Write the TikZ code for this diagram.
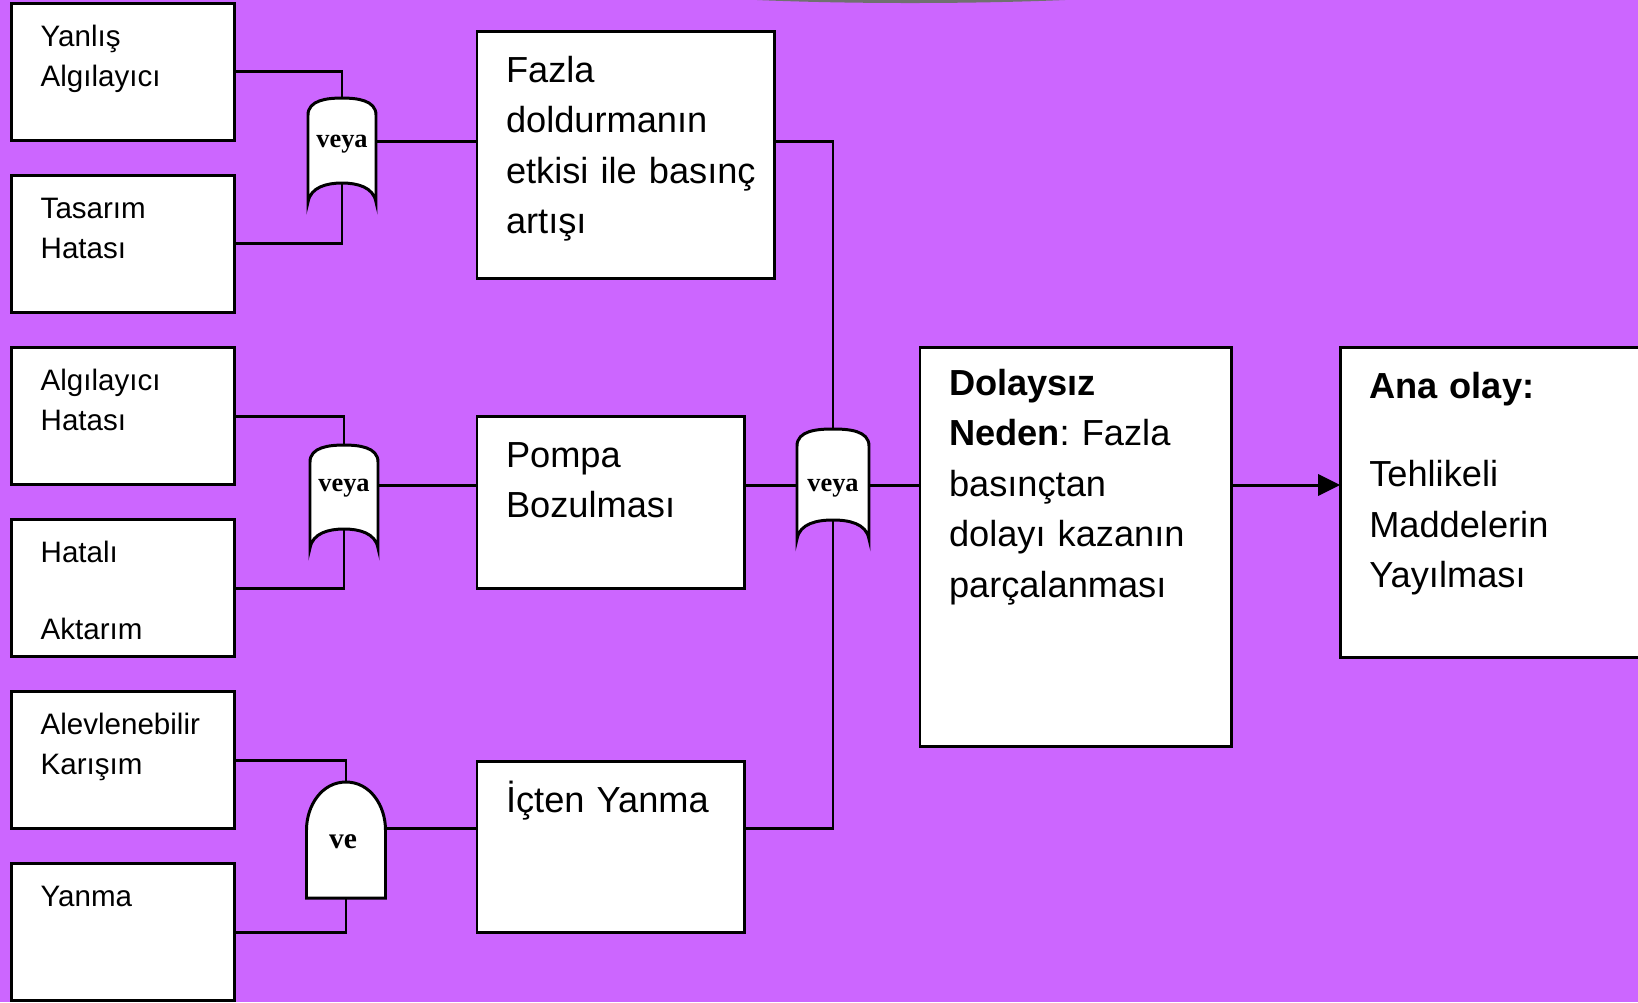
\documentclass[tikz,border=0pt]{standalone}
\usepackage{fontspec}
\setmainfont{Liberation Sans}
\newfontfamily\gatefont{Liberation Serif}
\usepackage{tikz}
\usetikzlibrary{positioning,arrows.meta}
\definecolor{c_back}{RGB}{204,102,255}
\definecolor{c_edge}{RGB}{112,112,112}
\hyphenpenalty=10000
\frenchspacing
\tikzset{leafbox/.style={rectangle, draw=black, fill=white, line width=0.85pt, outer sep=0pt, align=left, inner xsep=0.29cm, inner ysep=0pt, text width=1.65cm, text height=0.43cm, text depth=0.94cm, font=\fontsize{8.4}{11.3}\selectfont},
eventbox/.style={rectangle, draw=black, fill=white, line width=0.85pt, outer sep=0pt, align=left, anchor=north west, inner xsep=0.29cm, inner ysep=0pt, text height=0.51cm, font=\fontsize{10.3}{14.4}\selectfont},
gateline/.style={draw=black, fill=white, line width=0.85pt},
gatetext/.style={inner sep=0pt, font=\gatefont\bfseries\fontsize{7.5}{9}\selectfont},
wire/.style={line width=0.85pt},
arrow/.style={line width=0.85pt,-{Triangle[length=0.22cm,width=0.21cm]}}}
% gates: name, centre x, top y, width, height, output y, label
\newcommand{\orgate}[7]{%
  \draw[gateline] (#2-#4/2,#3+17) to[out=90,in=180] (#2,#3) to[out=0,in=90] (#2+#4/2,#3+17)
    -- (#2+#4/2,#3+#5) to[out=100,in=0] (#2,#3+#5-19) to[out=180,in=80] (#2-#4/2,#3+#5) -- cycle;
  \coordinate (#1-n) at (#2,#3);
  \coordinate (#1-s) at (#2,#3+#5-19);
  \coordinate (#1-w) at (#2-#4/2,#6);
  \coordinate (#1-e) at (#2+#4/2,#6);
  \node (#1) [gatetext] at (#2,#6+3) {#7};}
\newcommand{\andgate}[7]{%
  \draw[gateline] (#2-#4/2,#3+#5) -- (#2-#4/2,#3+48) to[out=90,in=180] (#2,#3) to[out=0,in=90] (#2+#4/2,#3+48)
    -- (#2+#4/2,#3+#5) -- cycle;
  \coordinate (#1-n) at (#2,#3);
  \coordinate (#1-s) at (#2,#3+#5);
  \coordinate (#1-e) at (#2+#4/2,#6);
  \node (#1) [gatetext, font=\gatefont\bfseries\fontsize{8.4}{10}\selectfont] at (#2-3,#6+14) {#7};}

\begin{document}
\begin{tikzpicture}[x=0.01cm, y=-0.01cm]
\useasboundingbox (0,0) rectangle (1638,1002);
\clip (0,0) rectangle (1638,1002);
\fill[c_back] (0,0) rectangle (1638,1002);
\fill[c_edge] (757,0) .. controls (850,4) and (970,4) .. (1065,0) -- cycle;

% gates
\orgate{g1}{342}{98}{68}{104}{141}{veya}
\orgate{g2}{344}{445}{68}{103}{485}{veya}
\andgate{g3}{346}{782}{79}{116}{828}{ve}
\orgate{g4}{833}{429}{72}{110}{485}{veya}

% basic events
\node (yan) [leafbox, anchor=north west] at (11.7,3.3) {Yanlış\\Algılayıcı};
\node (tas) [leafbox, below=0.35cm of yan] {Tasarım\\Hatası};
\node (alg) [leafbox, below=0.35cm of tas] {Algılayıcı\\Hatası};
\node (hat) [leafbox, below=0.35cm of alg] {Hatalı\\[0.37cm]Aktarım};
\node (alev) [leafbox, below=0.35cm of hat] {Alevlenebilir\\Karışım};
\node (yanma) [leafbox, below=0.35cm of alev] {Yanma};

% intermediate events
\node (faz) [eventbox, text width=2.39cm, text depth=1.96cm] at (477,31) {Fazla\\doldurmanın\\etkisi~ile~basınç\\artışı};
\node (pom) [eventbox, text width=2.09cm, text depth=1.21cm] at (477,416) {Pompa\\Bozulması};
\node (ict) [eventbox, text width=2.09cm, text depth=1.20cm] at (477,761) {İçten Yanma};
\node (dol) [eventbox, text width=2.53cm, text height=0.48cm, text depth=3.51cm] at (920,347) {\textbf{Dolaysız}\\\textbf{Neden}: Fazla\\basınçtan\\dolayı~kazanın\\parçalanması};
\node (ana) [eventbox, right=1.09cm of dol.north east, anchor=north west, text width=2.62cm, text depth=2.59cm] {\textbf{Ana olay:}\\[0.38cm]Tehlikeli\\Maddelerin\\Yayılması};

% wires
\draw [wire] (yan.east) -| (g1-n);
\draw [wire] (tas.east) -| (g1-s);
\draw [wire] (g1-e) -- (faz.west |- g1-e);
\draw [wire] (alg.east) -| (g2-n);
\draw [wire] (hat.east) -| (g2-s);
\draw [wire] (g2-e) -- (pom.west |- g2-e);
\draw [wire] (alev.east) -| (g3-n);
\draw [wire] (yanma.east) -| (g3-s);
\draw [wire] (g3-e) -- (ict.west |- g3-e);
\draw [wire] (faz.east |- g1-e) -| (g4-n);
\draw [wire] (pom.east |- g4-w) -- (g4-w);
\draw [wire] (ict.east |- g3-e) -| (g4-s);
\draw [wire] (g4-e) -- (dol.west |- g4-e);
\draw [arrow] (dol.east |- g4-e) -- (ana.west |- g4-e);
\end{tikzpicture}
\end{document}
